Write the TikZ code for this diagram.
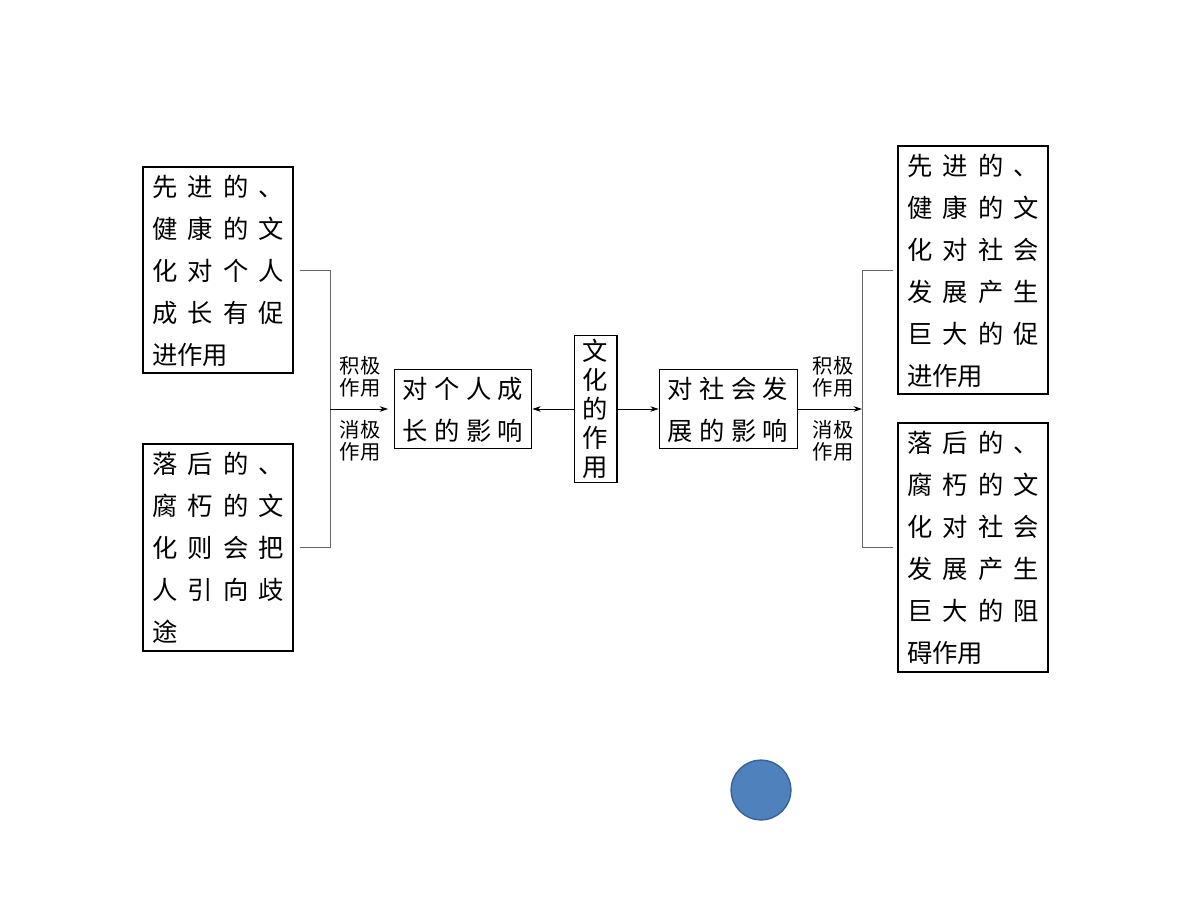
\documentclass[tikz,border=0pt]{standalone}
\usepackage{fontspec}
\newfontfamily\cjk{Noto Sans CJK SC}
\usetikzlibrary{arrows.meta}
\newcommand\JL[4]{\makebox[93.6pt][s]{#1\hfil #2\hfil #3\hfil #4}}
\newcommand\JC[4]{\makebox[86pt][s]{#1\hfil #2\hfil #3\hfil #4}}
\begin{document}
\begin{tikzpicture}[x=0.025cm,y=-0.025cm,
  bx/.style={draw,line width=0.8pt},
  ln/.style={font=\cjk\fontsize{18}{18}\selectfont,anchor=west,inner sep=0pt},
  sm/.style={font=\cjk\fontsize{14.5}{15.6}\selectfont,inner sep=0pt,align=center},
  br/.style={draw=black!60,line width=0.6pt},
  ar/.style={-{Stealth[length=6pt,width=4pt]},line width=0.6pt}]
\useasboundingbox (0,0) rectangle (1200,900);
% left boxes
\draw[bx] (143,167) rectangle (293,373);
\draw[bx] (143,444) rectangle (293,651);
\node[ln] (l1a) at (152,187) {\JL{先}{进}{的}{、}};
\node[ln] (l1b) at (152,229) {\JL{健}{康}{的}{文}};
\node[ln] (l1c) at (152,271) {\JL{化}{对}{个}{人}};
\node[ln] (l1d) at (152,313) {\JL{成}{长}{有}{促}};
\node[ln] (l1e) at (152,355) {进作用};
\node[ln] (l2a) at (152,464) {\JL{落}{后}{的}{、}};
\node[ln] (l2b) at (152,506) {\JL{腐}{朽}{的}{文}};
\node[ln] (l2c) at (152,548) {\JL{化}{则}{会}{把}};
\node[ln] (l2d) at (152,590) {\JL{人}{引}{向}{歧}};
\node[ln] (l2e) at (152,632) {途};
% right boxes
\draw[bx] (898,146) rectangle (1048,394);
\draw[bx] (898,423) rectangle (1048,672);
\node[ln] (r1a) at (907,166) {\JL{先}{进}{的}{、}};
\node[ln] (r1b) at (907,208) {\JL{健}{康}{的}{文}};
\node[ln] (r1c) at (907,250) {\JL{化}{对}{社}{会}};
\node[ln] (r1d) at (907,292) {\JL{发}{展}{产}{生}};
\node[ln] (r1e) at (907,334) {\JL{巨}{大}{的}{促}};
\node[ln] (r1f) at (907,376) {进作用};
\node[ln] (r2a) at (907,443) {\JL{落}{后}{的}{、}};
\node[ln] (r2b) at (907,485) {\JL{腐}{朽}{的}{文}};
\node[ln] (r2c) at (907,527) {\JL{化}{对}{社}{会}};
\node[ln] (r2d) at (907,569) {\JL{发}{展}{产}{生}};
\node[ln] (r2e) at (907,611) {\JL{巨}{大}{的}{阻}};
\node[ln] (r2f) at (907,653) {碍作用};
% center boxes
\node[bx,minimum width=97.8pt,minimum height=56.7pt,inner sep=0pt] (ind) at (463,409) {};
\node[ln] at (402,389) {\JC{对}{个}{人}{成}};
\node[ln] at (402,431) {\JC{长}{的}{影}{响}};
\node[bx,minimum width=30.5pt,minimum height=105pt,inner sep=0pt] (cul) at (595.5,409) {};
\node[sm,font=\cjk\fontsize{18}{20.5}\selectfont] at (595.5,409) {文\\化\\的\\作\\用};
\node[bx,minimum width=98.5pt,minimum height=56.7pt,inner sep=0pt] (soc) at (728.5,409) {};
\node[ln] at (667,389) {\JC{对}{社}{会}{发}};
\node[ln] at (667,431) {\JC{展}{的}{影}{响}};
% connectors
\draw[ar] (cul.west) -- (ind.east);
\draw[ar] (cul.east) -- (soc.west);
\coordinate (lb) at (330,409);
\draw[br] (300,270) -- (330,270) -- (330,547) -- (300,547);
\draw[ar] (lb) -- ([xshift=-4pt]ind.west);
\coordinate (rb) at (862,409);
\draw[br] (893,270) -- (862,270) -- (862,547) -- (893,547);
\draw[ar] (soc.east) -- (rb);
\node[sm] at (360,377) {积极\\作用};
\node[sm] at (360,441) {消极\\作用};
\node[sm] at (833,377) {积极\\作用};
\node[sm] at (833,441) {消极\\作用};
\node[circle,draw={rgb,255:red,58;green,98;blue,150},fill={rgb,255:red,79;green,129;blue,189},line width=1pt,minimum size=42.5pt] (c) at (761,790) {};
\end{tikzpicture}
\end{document}
